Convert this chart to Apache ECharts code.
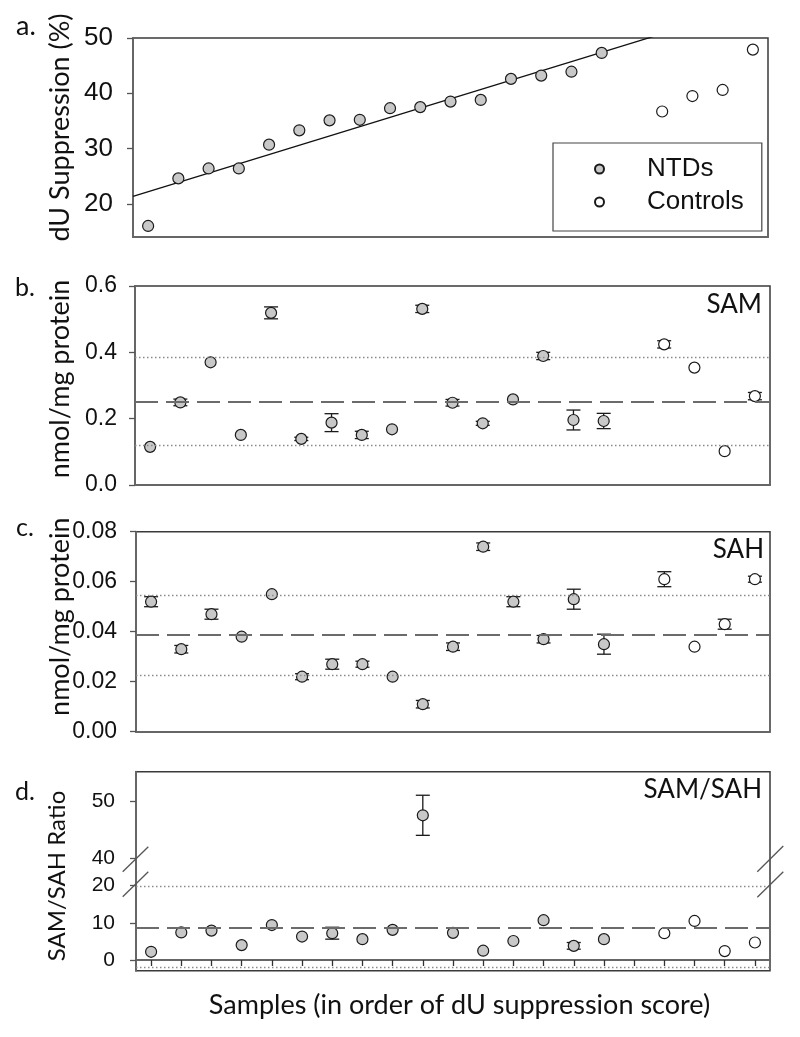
<!DOCTYPE html>
<html><head><meta charset="utf-8">
<script src="https://cdn.jsdelivr.net/npm/echarts@6/dist/echarts.min.js"></script>
<style>html,body{margin:0;padding:0;background:#fff}#c{width:800px;height:1037px}</style>
</head><body><div id="c"></div>
<script>
// ---------- data ----------
const ntdPos  = [1,2,3,4,5,6,7,8,9,10,11,12,13,14,15,16];
const ctrlPos = [18,19,20,21];
const xTickPos = [1,2,3,4,5,6,7,8,9,10,11,12,13,14,15,16,17,18,19,20,21];

// a. dU suppression (%)
const duNTD  = [16.0,24.6,26.4,26.4,30.7,33.3,35.1,35.2,37.3,37.5,38.5,38.8,42.6,43.2,43.9,47.3];
const duCtrl = [36.7,39.5,40.6,47.9];
const duTicks = [20,30,40,50];

// b. SAM (nmol/mg protein)
const samNTD     = [0.115,0.249,0.370,0.151,0.519,0.139,0.188,0.151,0.168,0.531,0.248,0.186,0.258,0.389,0.196,0.193];
const samNTDErr  = [0,0.010,0,0,0.018,0.005,0.027,0.011,0,0.011,0.010,0.006,0,0.011,0.030,0.023];
const samCtrl    = [0.424,0.354,0.102,0.268];
const samCtrlErr = [0.011,0,0,0.011];
const samMean = 0.251, samBand = [0.121, 0.384];
const samTicks = [0,0.2,0.4,0.6];

// c. SAH (nmol/mg protein)
const sahNTD     = [0.052,0.033,0.047,0.038,0.055,0.022,0.027,0.027,0.022,0.011,0.034,0.074,0.052,0.037,0.053,0.035];
const sahNTDErr  = [0.002,0.0015,0.002,0,0,0.0012,0.002,0.0012,0,0.0015,0.0015,0.0015,0.002,0.0015,0.004,0.004];
const sahCtrl    = [0.061,0.034,0.043,0.061];
const sahCtrlErr = [0.003,0,0.002,0.0012];
const sahMean = 0.0387, sahBand = [0.0227, 0.0547];
const sahTicks = [0,0.02,0.04,0.06,0.08];

// d. SAM/SAH ratio (broken axis)
const ratioNTD     = [2.2,7.4,7.9,4.0,9.4,6.3,7.2,5.6,8.1,47.5,7.3,2.5,5.1,10.7,3.8,5.6];
const ratioNTDErr  = [0,0,0,0,0,0,1.6,0,0,3.5,0,0,0,0,0.9,0];
const ratioCtrl    = [7.2,10.5,2.4,4.7];
const ratioCtrlErr = [0,0,0,0];
const ratioMean = 8.8, ratioBand = [-2.0, 19.7];
const ratioTicksLow = [0,10,20], ratioTicksHigh = [40,50];
const ratioBreak = 30;

// ---------- helpers ----------
const TICKFONT = 'Liberation Sans';
const TITLEFONT = 'Lato';
const GRAY = '#c8c8c8', EDGE = '#1a1a1a';
const pts = (pos, vals, filt) => pos.map((p,i)=>[p, vals[i]]).filter(d=>!filt||filt(d[1]));
const errs = (pos, vals, e, filt) => pos.map((p,i)=>[p, vals[i]-e[i], vals[i]+e[i], vals[i]])
  .filter((d,i)=>e[i]>0 && (!filt||filt(d[3])));

function errRender(params, api){
  const x = api.value(0), lo = api.value(1), hi = api.value(2);
  const p1 = api.coord([x, hi]), p2 = api.coord([x, lo]);
  const hw = 7, st = {stroke: EDGE, lineWidth: 1.3};
  return {type:'group', children:[
    {type:'line', shape:{x1:p1[0],y1:p1[1],x2:p2[0],y2:p2[1]}, style:st},
    {type:'line', shape:{x1:p1[0]-hw,y1:p1[1],x2:p1[0]+hw,y2:p1[1]}, style:st},
    {type:'line', shape:{x1:p2[0]-hw,y1:p2[1],x2:p2[0]+hw,y2:p2[1]}, style:st}
  ]};
}
function errSeries(idx, data){
  return {type:'custom', xAxisIndex:idx, yAxisIndex:idx, renderItem:errRender, data:data,
    encode:{x:0, y:[1,2]}, z:3, silent:true, clip:false};
}
function scat(idx, name, data, fill){
  return {type:'scatter', name:name, xAxisIndex:idx, yAxisIndex:idx, data:data, symbolSize:11,
    itemStyle:{color:fill, borderColor:EDGE, borderWidth:1.2, opacity:1}, z:4, silent:true};
}
function refLines(idx, mean, band){
  return {type:'line', xAxisIndex:idx, yAxisIndex:idx, data:[], silent:true, z:1,
    markLine:{silent:true, symbol:'none', precision:5, label:{show:false}, animation:false,
      data:[
        {yAxis:mean, lineStyle:{type:[23,8], width:2, color:'#6b6b6b'}},
        {yAxis:band[0], lineStyle:{type:[1.5,2.5], width:1.3, color:'#8a8a8a'}},
        {yAxis:band[1], lineStyle:{type:[1.5,2.5], width:1.3, color:'#8a8a8a'}}
      ]}};
}

// regression line (least squares) for NTDs in panel a
const n = ntdPos.length;
const mx = ntdPos.reduce((s,v)=>s+v,0)/n, my = duNTD.reduce((s,v)=>s+v,0)/n;
let sxy=0, sxx=0;
ntdPos.forEach((x,i)=>{sxy+=(x-mx)*(duNTD[i]-my); sxx+=(x-mx)*(x-mx);});
const slope = sxy/sxx, icpt = my - slope*mx;

// ---------- layout ----------
const XMIN = 0.5, XMAX = 21.5;
const grids = [
  {left:133, top:38,    width:635, height:199},   // a
  {left:135, top:286,   width:635, height:199},   // b
  {left:136, top:531.7, width:634, height:200},   // c
  {left:136, top:771.7, width:634, height:199},   // d frame
  {left:136, top:771.7, width:634, height:100.3}, // d upper
  {left:136, top:872,   width:634, height:98.7}   // d lower
].map((g,i)=>Object.assign({show: i<4, borderColor:'#3a3a3a', borderWidth:1.5, backgroundColor:'transparent'}, g));

function xAx(i, ticks){
  return {gridIndex:i, type:'value', min:XMIN, max:XMAX, show: i!==3 && i!==4,
    axisLine:{show:true, lineStyle:{color:'#666', width:2}},
    axisTick: ticks ? {show:true, inside:false, length:6, customValues:xTickPos, lineStyle:{color:'#333', width:1.3}} : {show:false},
    axisLabel:{show:false}, splitLine:{show:false}};
}
function yAx(i, min, max, ticks, fs, margin, dec){
  return {gridIndex:i, type:'value', min:min, max:max, show:true,
    axisLine:{show:true, lineStyle:{color:'#666', width:2}},
    axisTick:{show:true, inside:false, length:6, customValues:ticks, lineStyle:{color:'#555', width:1.3}},
    axisLabel:{show:true, customValues:ticks, margin:margin, color:'#111', fontFamily:TICKFONT, fontSize:fs,
      formatter: v => v.toFixed(dec)},
    splitLine:{show:false}};
}

const option = {
  animation:false,
  backgroundColor:'#fff',
  grid: grids,
  xAxis: [xAx(0,false), xAx(1,false), xAx(2,false), xAx(3,false), xAx(4,false), xAx(5,true)],
  yAxis: [
    yAx(0, 14, 50, duTicks, 26, 20, 0),
    yAx(1, 0, 0.6, samTicks, 23, 18, 1),
    yAx(2, 0, 0.08, sahTicks, 23, 19, 2),
    {gridIndex:3, type:'value', min:0, max:1, show:false},
    yAx(4, 37.6, 55.11, ratioTicksHigh, 21, 21, 0),
    yAx(5, -2.88, 23.66, ratioTicksLow, 21, 21, 0)
  ],
  legend:{
    data:['NTDs','Controls'], orient:'vertical', left:553, top:143, selectedMode:false,
    itemWidth:9, itemHeight:9, itemGap:3, padding:[11,18,14,41],
    borderColor:'#444', borderWidth:1.2, backgroundColor:'#fff',
    textStyle:{fontFamily:TICKFONT, fontSize:26, color:'#111', lineHeight:30, padding:[0,0,0,38]}
  },
  series: [
    // a
    {type:'line', xAxisIndex:0, yAxisIndex:0, data:[[XMIN, icpt+slope*XMIN],[XMAX, icpt+slope*XMAX]],
      symbol:'none', lineStyle:{color:'#111', width:1.3}, clip:true, silent:true, z:2},
    scat(0,'NTDs', pts(ntdPos,duNTD), GRAY),
    scat(0,'Controls', pts(ctrlPos,duCtrl), '#fff'),
    // b
    refLines(1, samMean, samBand),
    errSeries(1, errs(ntdPos,samNTD,samNTDErr).concat(errs(ctrlPos,samCtrl,samCtrlErr))),
    scat(1,'NTDs', pts(ntdPos,samNTD), GRAY),
    scat(1,'Controls', pts(ctrlPos,samCtrl), '#fff'),
    // c
    refLines(2, sahMean, sahBand),
    errSeries(2, errs(ntdPos,sahNTD,sahNTDErr).concat(errs(ctrlPos,sahCtrl,sahCtrlErr))),
    scat(2,'NTDs', pts(ntdPos,sahNTD), GRAY),
    scat(2,'Controls', pts(ctrlPos,sahCtrl), '#fff'),
    // d lower
    refLines(5, ratioMean, ratioBand),
    errSeries(5, errs(ntdPos,ratioNTD,ratioNTDErr,v=>v<ratioBreak).concat(errs(ctrlPos,ratioCtrl,ratioCtrlErr,v=>v<ratioBreak))),
    scat(5,'NTDs', pts(ntdPos,ratioNTD,v=>v<ratioBreak), GRAY),
    scat(5,'Controls', pts(ctrlPos,ratioCtrl,v=>v<ratioBreak), '#fff'),
    // d upper
    errSeries(4, errs(ntdPos,ratioNTD,ratioNTDErr,v=>v>=ratioBreak)),
    scat(4,'NTDs', pts(ntdPos,ratioNTD,v=>v>=ratioBreak), GRAY),
    scat(4,'Controls', pts(ctrlPos,ratioCtrl,v=>v>=ratioBreak), '#fff')
  ],
  graphic: [
    // panel letters
    {type:'text', left:16, top:13, style:{text:'a.', font:'27px '+TITLEFONT, fill:'#111'}},
    {type:'text', left:15, top:275, style:{text:'b.', font:'25px '+TITLEFONT, fill:'#111'}},
    {type:'text', left:16, top:515, style:{text:'c.', font:'25px '+TITLEFONT, fill:'#111'}},
    {type:'text', left:15, top:779, style:{text:'d.', font:'25px '+TITLEFONT, fill:'#111'}},
    // y titles (rotated)
    {type:'text', x:60, y:127.5, rotation:Math.PI/2, style:{text:'dU Suppression (%)', font:'27px '+TITLEFONT, fill:'#111', align:'center', verticalAlign:'middle'}},
    {type:'text', x:60, y:379, rotation:Math.PI/2, style:{text:'nmol/mg protein', font:'27px '+TITLEFONT, fill:'#111', align:'center', verticalAlign:'middle'}},
    {type:'text', x:60, y:616.7, rotation:Math.PI/2, style:{text:'nmol/mg protein', font:'27px '+TITLEFONT, fill:'#111', align:'center', verticalAlign:'middle'}},
    {type:'text', x:57, y:876, rotation:Math.PI/2, style:{text:'SAM/SAH Ratio', font:'24px '+TITLEFONT, fill:'#111', align:'center', verticalAlign:'middle'}},
    // panel tags
    {type:'text', x:762, y:304.5, style:{text:'SAM', font:'26px '+TITLEFONT, fill:'#111', align:'right', verticalAlign:'middle'}},
    {type:'text', x:764, y:550, style:{text:'SAH', font:'26px '+TITLEFONT, fill:'#111', align:'right', verticalAlign:'middle'}},
    {type:'text', x:762, y:789.5, style:{text:'SAM/SAH', font:'26px '+TITLEFONT, fill:'#111', align:'right', verticalAlign:'middle'}},
    // x title
    {type:'text', x:459.5, y:1005, style:{text:'Samples (in order of dU suppression score)', font:'27px '+TITLEFONT, fill:'#111', align:'center', verticalAlign:'middle'}},
    // axis break marks
    {type:'line', shape:{x1:122.7,y1:871.7,x2:148.3,y2:846.7}, style:{stroke:'#555', lineWidth:1.3}, z:10},
    {type:'line', shape:{x1:122.7,y1:896.7,x2:148.3,y2:871.7}, style:{stroke:'#555', lineWidth:1.3}, z:10},
    {type:'line', shape:{x1:757.3,y1:871.7,x2:783.3,y2:846.0}, style:{stroke:'#555', lineWidth:1.3}, z:10},
    {type:'line', shape:{x1:757.3,y1:897.3,x2:783.3,y2:871.7}, style:{stroke:'#555', lineWidth:1.3}, z:10}
  ]
};
const chart = echarts.init(document.getElementById('c'), null, {renderer:'canvas'});
chart.setOption(option);
</script></body></html>
